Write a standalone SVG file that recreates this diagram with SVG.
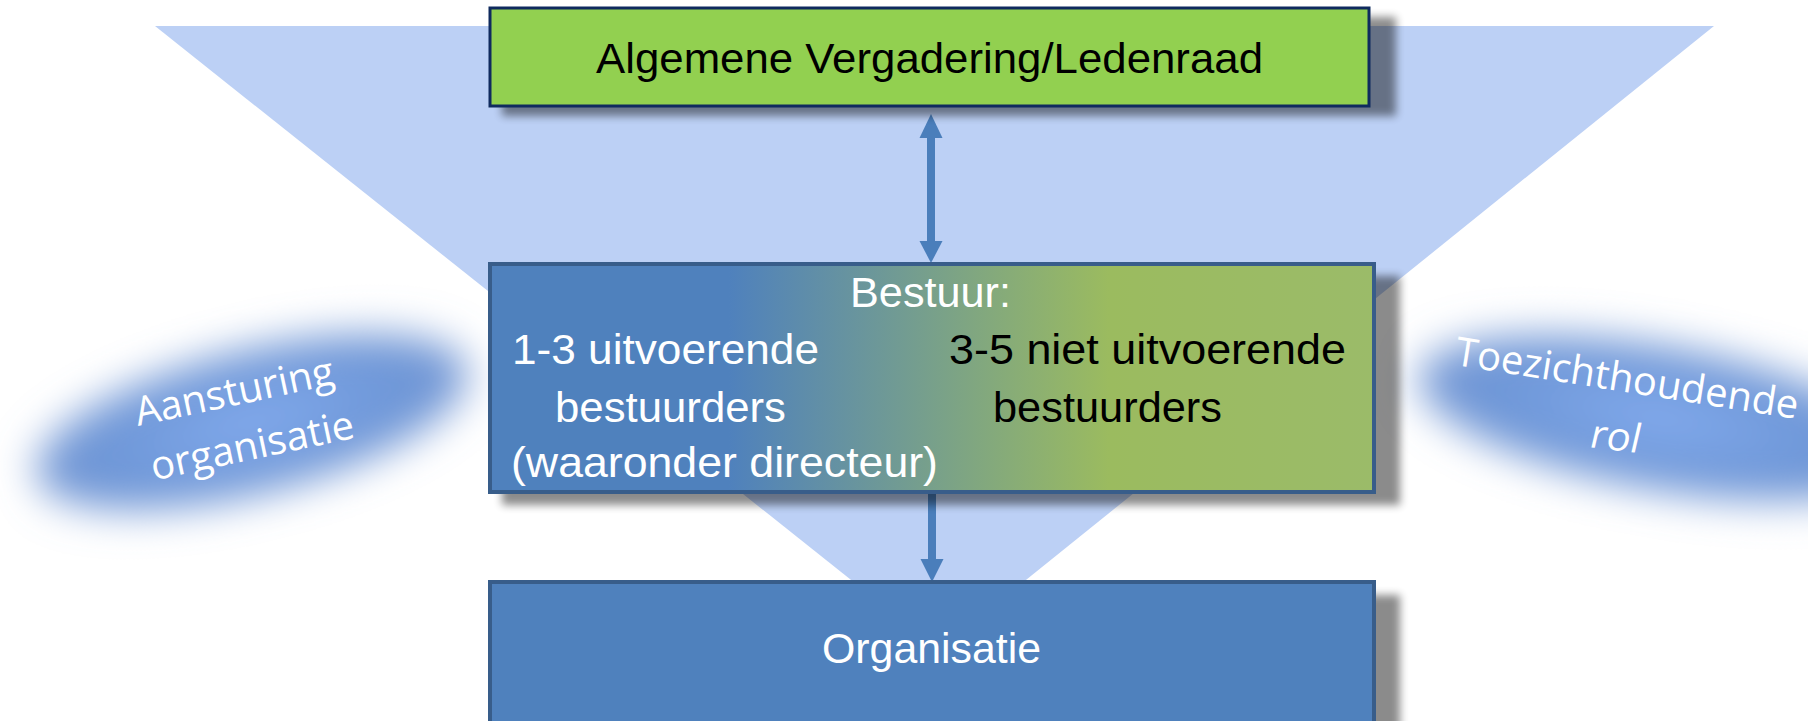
<svg xmlns="http://www.w3.org/2000/svg" width="1808" height="721" viewBox="0 0 1808 721">
<defs>
<style>
.box-text{font-family:"Liberation Sans",Arial,sans-serif;font-size:42px}
.blob-text{font-family:"Open Sans","Liberation Sans",sans-serif;font-size:40px;fill:#ffffff}
.white{fill:#ffffff}
.black{fill:#000000}
.conn{stroke:#4A7EBB;stroke-width:8;fill:none}
.head{fill:#4A7EBB}
.shadow{fill:#000000;opacity:0.45;filter:url(#soft)}
</style>
<filter id="soft" x="-10%" y="-20%" width="120%" height="140%">
<feGaussianBlur stdDeviation="4"/>
</filter>
<filter id="blobBlur" x="-40%" y="-100%" width="180%" height="300%">
<feGaussianBlur stdDeviation="20"/>
</filter>
<linearGradient id="bestuurGrad" x1="0" y1="0" x2="1" y2="0">
<stop offset="0" stop-color="#4F81BD"/>
<stop offset="0.27" stop-color="#4F81BD"/>
<stop offset="0.70" stop-color="#9BBB5F"/>
<stop offset="1" stop-color="#9BBB69"/>
</linearGradient>
<radialGradient id="blobGrad" cx="0.5" cy="0.5" r="0.5">
<stop offset="0" stop-color="#84ACEE"/>
<stop offset="0.7" stop-color="#6E97D8"/>
<stop offset="1" stop-color="#7598D4"/>
</radialGradient>
</defs>

<rect x="0" y="0" width="1808" height="721" fill="#ffffff"/>

<g id="funnel">
<polygon points="155,26 1714,26 939,650" fill="#BCD0F5"/>
</g>

<g id="blob-left">
<ellipse cx="252" cy="422" rx="222" ry="72" transform="rotate(-14 252 422)" fill="url(#blobGrad)" filter="url(#blobBlur)"/>
<text class="blob-text" text-anchor="middle" transform="translate(237,405) rotate(-12)">Aansturing</text>
<text class="blob-text" text-anchor="middle" transform="translate(255,459) rotate(-12)">organisatie</text>
</g>

<g id="blob-right">
<ellipse cx="1660" cy="418" rx="245" ry="72" transform="rotate(10 1660 418)" fill="url(#blobGrad)" filter="url(#blobBlur)"/>
<text class="blob-text" text-anchor="middle" transform="translate(1625,392) rotate(9)">Toezichthoudende</text>
<text class="blob-text" text-anchor="middle" transform="translate(1613,450) rotate(7) skewX(-6)">rol</text>
</g>

<g id="connectors">
<line class="conn" x1="931" y1="136" x2="931" y2="243"/>
<polygon class="head" points="931,114 942.5,138 919.5,138"/>
<polygon class="head" points="931,263 942.5,241 919.5,241"/>
<line class="conn" x1="932" y1="492" x2="932" y2="561"/>
<polygon class="head" points="932,582 943.5,559 920.5,559"/>
</g>

<g id="node-algemene">
<rect class="shadow" x="502" y="17" width="894" height="99"/>
<rect x="490" y="8" width="879" height="98" fill="#92D050" stroke="#0F2A5E" stroke-width="3"/>
<text class="box-text black" x="596" y="73" textLength="667" lengthAdjust="spacingAndGlyphs">Algemene Vergadering/Ledenraad</text>
</g>

<g id="node-bestuur">
<rect class="shadow" x="502" y="276" width="898" height="229"/>
<rect x="490" y="264" width="884" height="228" fill="url(#bestuurGrad)" stroke="#385D8A" stroke-width="4"/>
<text class="box-text white" x="850" y="307" textLength="161" lengthAdjust="spacingAndGlyphs">Bestuur:</text>
<text class="box-text white" x="512" y="364" textLength="307" lengthAdjust="spacingAndGlyphs">1-3 uitvoerende</text>
<text class="box-text white" x="555" y="422" textLength="231" lengthAdjust="spacingAndGlyphs">bestuurders</text>
<text class="box-text white" x="511" y="477" textLength="427" lengthAdjust="spacingAndGlyphs">(waaronder directeur)</text>
<text class="box-text black" x="949" y="364" textLength="397" lengthAdjust="spacingAndGlyphs">3-5 niet uitvoerende</text>
<text class="box-text black" x="993" y="422" textLength="229" lengthAdjust="spacingAndGlyphs">bestuurders</text>
</g>

<g id="node-organisatie">
<rect class="shadow" x="502" y="595" width="898" height="140"/>
<rect x="490" y="582" width="884" height="150" fill="#4F81BD" stroke="#385D8A" stroke-width="4"/>
<text class="box-text white" x="822" y="663" textLength="219" lengthAdjust="spacingAndGlyphs">Organisatie</text>
</g>
</svg>
